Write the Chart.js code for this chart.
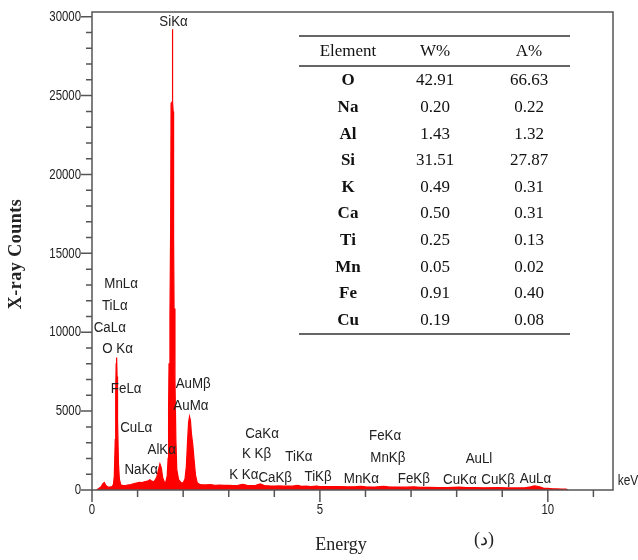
<!DOCTYPE html>
<html>
<head>
<meta charset="utf-8">
<script src="https://cdn.jsdelivr.net/npm/chart.js@4.4.1/dist/chart.umd.min.js"></script>
<style>
body{margin:0;background:#fff;}
#wrap{width:638px;height:560px;}
</style>
</head>
<body>
<div id="wrap"><canvas id="edsCanvas" width="638" height="560"></canvas></div>
<script>
// spectrum (keV / counts)
const energy = [0.10,0.14,0.20,0.24,0.27,0.30,0.35,0.40,0.44,0.47,0.49,0.51,0.52,0.53,0.54,0.55,0.56,0.58,0.60,0.63,0.68,
	0.75,0.85,0.95,1.04,1.10,1.15,1.22,1.27,1.31,1.36,1.42,1.46,1.49,1.52,1.55,1.59,1.62,1.65,1.67,1.68,1.69,1.71,1.725,1.735,
	1.745,1.76,1.765,1.77,1.78,1.79,1.80,1.82,1.84,1.86,1.90,1.96,2.00,2.04,2.07,2.10,2.12,2.14,2.16,2.18,2.21,2.24,2.27,2.31,2.36,
	2.40,2.50,2.60,2.70,2.80,2.90,3.00,3.10,3.20,3.31,3.40,3.50,3.59,3.69,3.78,3.90,4.00,4.10,4.20,4.30,4.40,4.51,4.60,4.70,
	4.80,4.93,5.00,5.20,5.40,5.60,5.80,5.90,6.00,6.20,6.40,6.50,6.70,6.90,7.06,7.20,7.40,7.60,7.80,8.05,8.20,8.40,8.60,8.90,
	9.10,9.30,9.50,9.62,9.71,9.80,9.90,10.00,10.10,10.20,10.30,10.40,10.45];
const counts = [0,80,200,400,480,300,180,190,220,350,900,3200,6200,8000,8400,7200,4500,1700,700,330,280,
	300,350,420,480,470,520,560,650,560,520,800,1300,1650,1400,800,480,520,900,2000,5200,8000,11000,16500,24500,
	24500,24600,29200,24600,24000,16000,11500,7000,3200,1300,650,450,460,700,1500,3300,4300,4650,4400,3600,2900,1900,950,450,360,
	330,320,340,300,310,290,300,280,300,360,290,280,300,380,280,260,250,260,240,250,240,290,230,240,
	220,250,220,210,220,200,210,230,200,190,230,200,190,180,200,170,170,160,160,180,150,150,140,150,
	130,130,140,200,260,220,120,100,80,70,60,50,0];

// peak labels: text, energy, counts
const peakNames = ['SiKα','MnLα','TiLα','CaLα','O Kα','FeLα','CuLα','AlKα','NaKα','AuMβ','AuMα','CaKα','K Kβ','K Kα','CaKβ',
	'TiKα','TiKβ','MnKα','FeKα','MnKβ','FeKβ','AuLl','CuKα','CuKβ','AuLα'];
const peakEnergy = [1.79,0.64,0.50,0.39,0.56,0.75,0.97,1.53,1.08,2.22,2.17,3.73,3.61,3.33,4.02,
	4.54,4.96,5.91,6.43,6.49,7.06,8.49,8.07,8.91,9.73];
const peakCounts = [29680,13065,11670,10270,8940,6400,3930,2540,1270,6720,5330,3590,2330,950,800,
	2110,850,740,3420,2070,700,2010,670,670,700];

// quantification table
const elements = ['O','Na','Al','Si','K','Ca','Ti','Mn','Fe','Cu'];
const wPercent = ['42.91','0.20','1.43','31.51','0.49','0.50','0.25','0.05','0.91','0.19'];
const aPercent = ['66.63','0.22','1.32','27.87','0.31','0.31','0.13','0.02','0.40','0.08'];

const xTickLabels = [0,5,10];
const yTickLabels = [0,5000,10000,15000,20000,25000,30000];

const sans = "'Liberation Sans', Arial, sans-serif";
const serif = "'Liberation Serif', 'Times New Roman', 'DejaVu Serif', serif";
const axisColor = '#555';
const textColor = '#222';

// the spectrum software uses a condensed sans, squeeze regular Arial a bit
function narrowText(ctx, text, x, y, sx, align){
	ctx.save();
	ctx.translate(x, y);
	ctx.scale(sx, 1);
	ctx.textAlign = align;
	ctx.fillText(text, 0, 0);
	ctx.restore();
}

let edsDecor = {
	id: 'edsDecor',
	afterDraw(chart){
		let ctx = chart.ctx;
		let xs = chart.scales.x, ys = chart.scales.y;
		let a = chart.chartArea;
		ctx.save();
		// frame
		ctx.strokeStyle = axisColor;
		ctx.lineWidth = 1.5;
		ctx.strokeRect(a.left, a.top, a.right - a.left, a.bottom - a.top);
		// ticks
		ctx.beginPath();
		for (let v = 0; v <= 11; v++) {
			let px = xs.getPixelForValue(v);
			let len = (v % 5 === 0) ? 12 : 7;
			ctx.moveTo(px, a.bottom);
			ctx.lineTo(px, a.bottom + len);
		}
		for (let v = 0; v <= 30000; v += 1000) {
			let py = ys.getPixelForValue(v);
			let len = (v % 5000 === 0) ? 11 : 6;
			ctx.moveTo(a.left, py);
			ctx.lineTo(a.left - len, py);
		}
		ctx.stroke();

		ctx.fillStyle = textColor;
		ctx.textBaseline = 'middle';
		// tick labels
		ctx.font = '15px ' + sans;
		xs.ticks.forEach(function(t){
			narrowText(ctx, String(t.value), xs.getPixelForValue(t.value), a.bottom + 20, 0.76, 'center');
		});
		ys.ticks.forEach(function(t){
			narrowText(ctx, String(t.value), a.left - 11, ys.getPixelForValue(t.value), 0.76, 'right');
		});
		narrowText(ctx, 'keV', a.right + 15, a.bottom - 9, 0.8, 'center');

		// peak labels
		ctx.font = '15.5px ' + sans;
		for (let i = 0; i < peakNames.length; i++) {
			narrowText(ctx, peakNames[i], xs.getPixelForValue(peakEnergy[i]), ys.getPixelForValue(peakCounts[i]), 0.86, 'center');
		}

		// axis titles
		ctx.textAlign = 'center';
		ctx.font = '18px ' + serif;
		ctx.fillText('Energy', 341, 545);
		ctx.fillText('(د)', 484, 540);
		ctx.save();
		ctx.translate(16, 254);
		ctx.rotate(-Math.PI / 2);
		ctx.font = 'bold 18px ' + serif;
		ctx.letterSpacing = '0.5px';
		ctx.fillText('X-ray Counts', 0, 0);
		ctx.restore();

		// table
		let tl = 299, tr = 570, rowH = 26.6;
		let colX = [348, 435, 529];
		ctx.strokeStyle = '#333';
		ctx.lineWidth = 1.5;
		ctx.beginPath();
		ctx.moveTo(tl, 36); ctx.lineTo(tr, 36);
		ctx.moveTo(tl, 66); ctx.lineTo(tr, 66);
		ctx.moveTo(tl, 334); ctx.lineTo(tr, 334);
		ctx.stroke();
		ctx.fillStyle = '#111';
		ctx.font = '17px ' + serif;
		ctx.fillText('Element', colX[0], 52);
		ctx.fillText('W%', colX[1], 52);
		ctx.fillText('A%', colX[2], 52);
		for (let i = 0; i < elements.length; i++) {
			let yy = 81 + i * rowH;
			ctx.font = 'bold 17px ' + serif;
			ctx.fillText(elements[i], colX[0], yy);
			ctx.font = '17px ' + serif;
			ctx.fillText(wPercent[i], colX[1], yy);
			ctx.fillText(aPercent[i], colX[2], yy);
		}
		ctx.restore();
	}
};

let points = energy.map(function(e, i){ return {x: e, y: counts[i]}; });

let config = {
	type: 'line',
	data: {
		datasets: [{
			label: 'EDS',
			data: points,
			borderColor: '#ff0000',
			backgroundColor: '#ff0000',
			borderWidth: 1.2,
			fill: 'origin',
			pointRadius: 0,
			tension: 0
		}]
	},
	options: {
		responsive: false,
		animation: false,
		devicePixelRatio: 1,
		layout: {padding: {top: 12, right: 25, left: 0, bottom: 0}},
		plugins: {legend: {display: false}, tooltip: {enabled: false}},
		scales: {
			x: {
				type: 'linear',
				min: 0,
				max: 11.43,
				afterFit: function(s){ s.height = 70; },
				afterBuildTicks: function(s){ s.ticks = xTickLabels.map(function(v){ return {value: v}; }); },
				border: {display: false},
				grid: {display: false},
				ticks: {display: false}
			},
			y: {
				min: 0,
				max: 30300,
				afterFit: function(s){ s.width = 92; },
				afterBuildTicks: function(s){ s.ticks = yTickLabels.map(function(v){ return {value: v}; }); },
				border: {display: false},
				grid: {display: false},
				ticks: {display: false}
			}
		}
	},
	plugins: [edsDecor]
};

window.edsChart = new Chart(document.getElementById('edsCanvas').getContext('2d'), config);
</script>
</body>
</html>
